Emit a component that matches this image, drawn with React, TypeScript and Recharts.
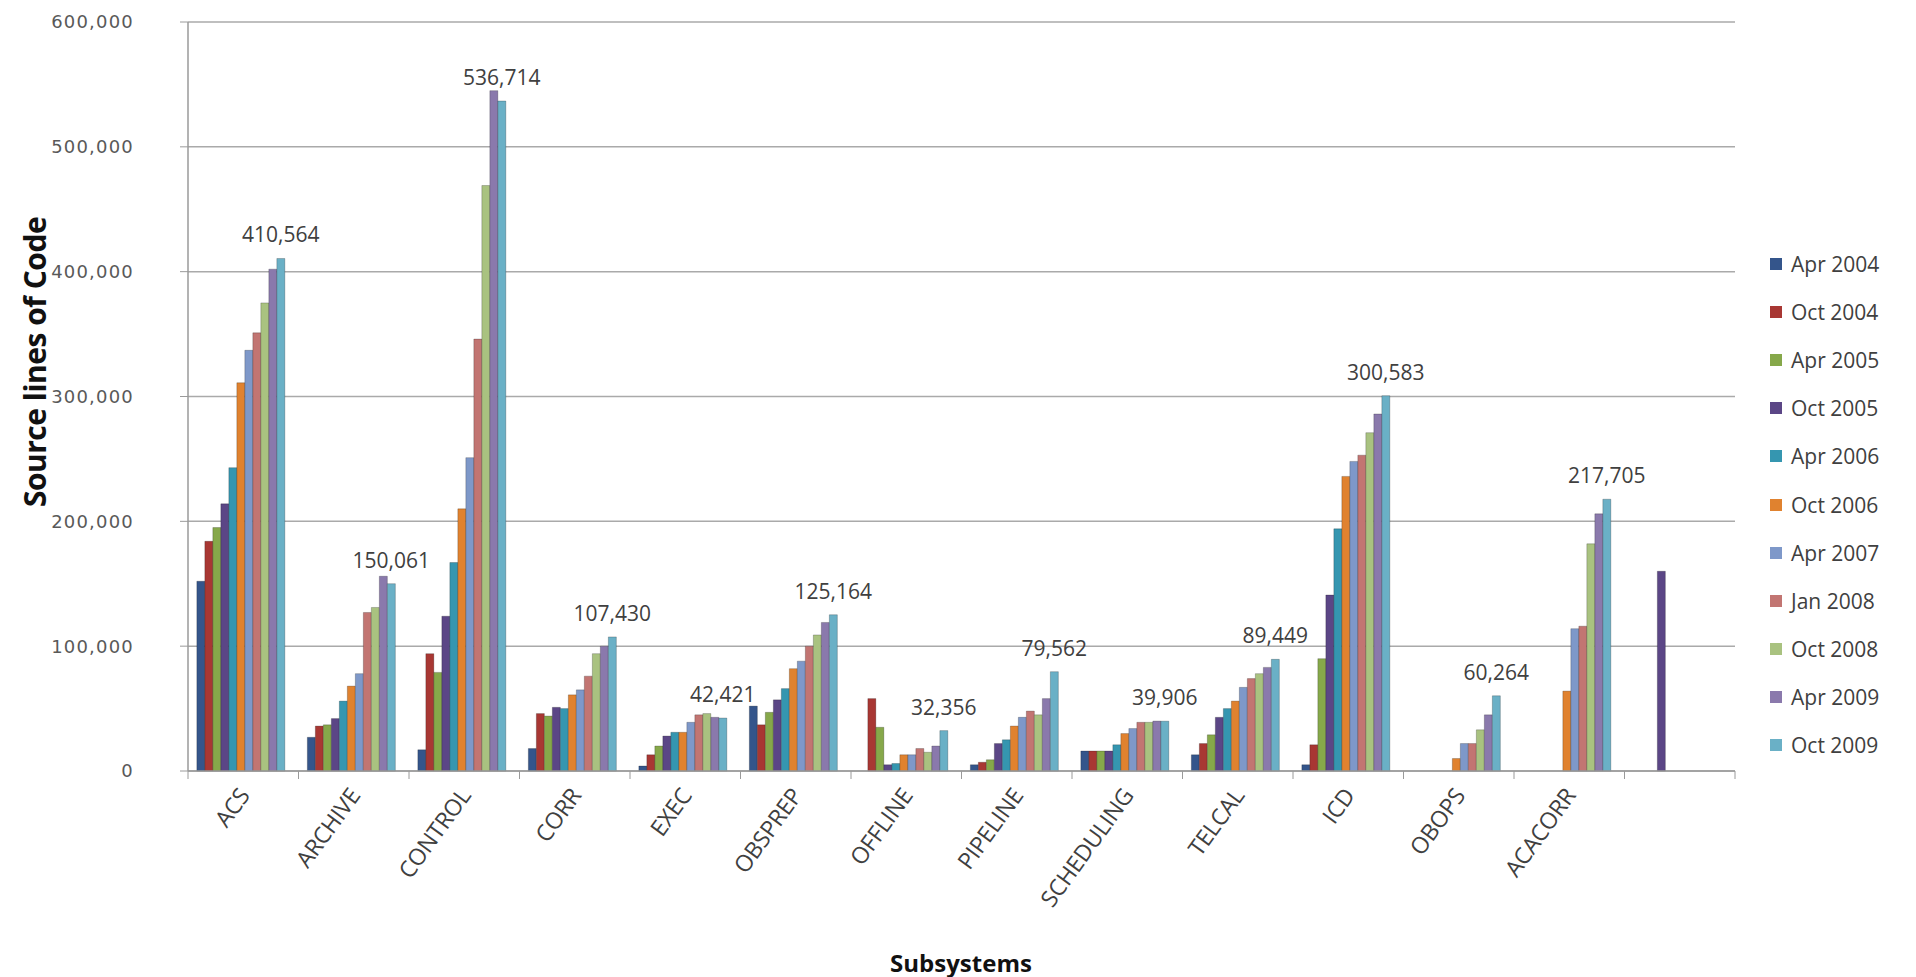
import React from "react";
import { BarChart, Bar, XAxis, YAxis, CartesianGrid, LabelList } from "recharts";

const categories = [
  "ACS", "ARCHIVE", "CONTROL", "CORR", "EXEC", "OBSPREP", "OFFLINE",
  "PIPELINE", "SCHEDULING", "TELCAL", "ICD", "OBOPS", "ACACORR", "",
];

const apr2004 = [152000, 27000, 17000, 18000, 4000, 52000, null, 5000, 16000, 13000, 5000, null, null, null];
const oct2004 = [184000, 36000, 94000, 46000, 13000, 37000, 58000, 7000, 16000, 22000, 21000, null, null, null];
const apr2005 = [195000, 37000, 79000, 44000, 20000, 47000, 35000, 9000, 16000, 29000, 90000, null, null, null];
const oct2005 = [214000, 42000, 124000, 51000, 28000, 57000, 5000, 22000, 16000, 43000, 141000, null, null, 160000];
const apr2006 = [243000, 56000, 167000, 50000, 31000, 66000, 6000, 25000, 21000, 50000, 194000, null, null, null];
const oct2006 = [311000, 68000, 210000, 61000, 31000, 82000, 13000, 36000, 30000, 56000, 236000, 10000, 64000, null];
const apr2007 = [337000, 78000, 251000, 65000, 39000, 88000, 13000, 43000, 34000, 67000, 248000, 22000, 114000, null];
const jan2008 = [351000, 127000, 346000, 76000, 45000, 100000, 18000, 48000, 39000, 74000, 253000, 22000, 116000, null];
const oct2008 = [375000, 131000, 469000, 94000, 46000, 109000, 15000, 45000, 39000, 78000, 271000, 33000, 182000, null];
const apr2009 = [402000, 156000, 545000, 100000, 43000, 119000, 20000, 58000, 40000, 83000, 286000, 45000, 206000, null];
const oct2009 = [410564, 150061, 536714, 107430, 42421, 125164, 32356, 79562, 39906, 89449, 300583, 60264, 217705, null];

const yTicks = [0, 100000, 200000, 300000, 400000, 500000, 600000];

const series = [
  { key: "Apr 2004", values: apr2004, color: "#34558b" },
  { key: "Oct 2004", values: oct2004, color: "#a83733" },
  { key: "Apr 2005", values: apr2005, color: "#86a84a" },
  { key: "Oct 2005", values: oct2005, color: "#5b4686" },
  { key: "Apr 2006", values: apr2006, color: "#3596b0" },
  { key: "Oct 2006", values: oct2006, color: "#e0822f" },
  { key: "Apr 2007", values: apr2007, color: "#7e98c9" },
  { key: "Jan 2008", values: jan2008, color: "#c27572" },
  { key: "Oct 2008", values: oct2008, color: "#a9c280" },
  { key: "Apr 2009", values: apr2009, color: "#8a79ac" },
  { key: "Oct 2009", values: oct2009, color: "#6ab0c6" },
];

const chartData = categories.map((name, i) => {
  const row: Record<string, any> = { name };
  series.forEach(s => { row[s.key] = s.values[i]; });
  return row;
});

const fmt = (v: any) => {
  if (v == null || v === "") return "";
  return String(v).replace(/\B(?=(\d{3})+(?!\d))/g, ",");
};

const font = "'Open Sans', sans-serif";
const PLOT_LEFT = 188;
const PLOT_RIGHT = 1735;
const BAND = (PLOT_RIGHT - PLOT_LEFT) / categories.length;

// category label, plus the Excel-style tick marks that sit between categories
function CategoryTick({ x, y, payload, index }: any) {
  const half = BAND / 2;
  return (
    <g>
      <line x1={x - half} x2={x - half} y1={y - 8} y2={y} stroke="#9a9a9a" />
      {index === categories.length - 1 && (
        <line x1={x + half} x2={x + half} y1={y - 8} y2={y} stroke="#9a9a9a" />
      )}
      <g transform={`translate(${x + 1},${y + 12})`}>
        <text x={0} y={0} dy="0.35em" textAnchor="end" transform="rotate(-54)"
          fill="#404040" fontSize={23} fontFamily={font} letterSpacing={-0.3}>
          {payload.value}
        </text>
      </g>
    </g>
  );
}

export default function App() {
  return (
    <div style={{ position: "absolute", left: 0, top: 0, width: 1916, height: 977, background: "#fff" }}>
      <BarChart
        width={1916}
        height={977}
        data={chartData}
        margin={{ top: 22, right: 1916 - PLOT_RIGHT, bottom: 56, left: 0 }}
        barCategoryGap="8%"
        barGap={0}
      >
        <CartesianGrid vertical={false} stroke="#aaaaaa" strokeWidth={1.5} />
        <XAxis
          dataKey="name"
          interval={0}
          height={150}
          tickLine={false}
          axisLine={{ stroke: "#9a9a9a", strokeWidth: 1.5 }}
          tick={<CategoryTick />}
        />
        <YAxis
          width={PLOT_LEFT}
          domain={[0, 600000]}
          ticks={yTicks}
          tickFormatter={fmt}
          tickSize={8}
          tickMargin={46}
          tickLine={{ stroke: "#9a9a9a" }}
          axisLine={{ stroke: "#9a9a9a", strokeWidth: 1.5 }}
          tick={{ fill: "#595959", fontSize: 18, fontFamily: "'DejaVu Sans', sans-serif", letterSpacing: 1.2 }}
        />
        {series.map((s, i) => (
          <Bar key={s.key} dataKey={s.key} fill={s.color} stroke="rgba(0,0,0,0.22)" strokeWidth={1}
            isAnimationActive={false}>
            {i === series.length - 1 && (
              <LabelList dataKey={s.key} position="top" offset={16} formatter={fmt}
                fill="#404040" fontSize={21} fontFamily={font} />
            )}
          </Bar>
        ))}
      </BarChart>

      <div style={{
        position: "absolute", left: 34, top: 362, transform: "translate(-50%, -50%) rotate(-90deg)",
        whiteSpace: "nowrap", fontFamily: font, fontWeight: 700, fontSize: 30, color: "#111",
        letterSpacing: -0.5,
      }}>
        Source lines of Code
      </div>
      <div style={{
        position: "absolute", left: 961, top: 962, transform: "translate(-50%, -50%)",
        whiteSpace: "nowrap", fontFamily: font, fontWeight: 700, fontSize: 24, color: "#111",
      }}>
        Subsystems
      </div>

      <div style={{ position: "absolute", left: 1770, top: 240, fontFamily: font, fontSize: 21, color: "#404040" }}>
        {series.map(s => (
          <div key={s.key} style={{ display: "flex", alignItems: "center", height: 48.1 }}>
            <span style={{ width: 12, height: 12, background: s.color, marginRight: 9, display: "inline-block" }} />
            <span>{s.key}</span>
          </div>
        ))}
      </div>
    </div>
  );
}
